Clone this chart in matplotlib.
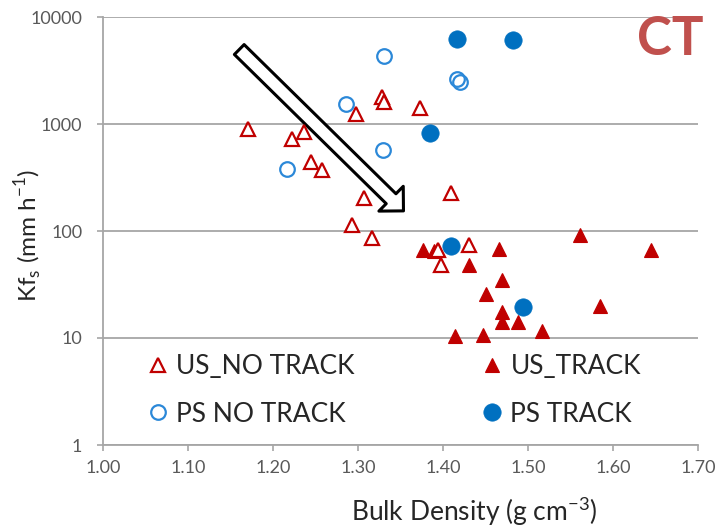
import matplotlib
matplotlib.use("Agg")
import matplotlib.pyplot as plt
from matplotlib.lines import Line2D
from matplotlib.ticker import FixedLocator, NullLocator

plt.rcParams['font.family'] = ['Lato', 'DejaVu Sans']
plt.rcParams['mathtext.fontset'] = 'custom'
plt.rcParams['mathtext.rm'] = 'Lato'

# Bulk density (g cm-3) and field-saturated hydraulic conductivity Kfs (mm h-1)
us_no_track_bd = [1.171, 1.222, 1.236, 1.245, 1.258, 1.298, 1.328, 1.330,
                  1.373, 1.409, 1.307, 1.293, 1.317, 1.431, 1.394, 1.398]
us_no_track_kfs = [900, 720, 850, 440, 370, 1250, 1770, 1600,
                   1400, 225, 205, 115, 86, 74, 66, 48]

us_track_bd = [1.561, 1.645, 1.376, 1.389, 1.466, 1.431, 1.470, 1.451,
               1.585, 1.469, 1.469, 1.488, 1.414, 1.447, 1.517]
us_track_kfs = [91, 66, 67, 65, 68, 48, 35, 26,
                20, 17.5, 14.1, 14.1, 10.4, 10.6, 11.6]

ps_no_track_bd = [1.217, 1.286, 1.330, 1.329, 1.417, 1.420]
ps_no_track_kfs = [380, 1540, 4330, 570, 2650, 2480]

ps_track_bd = [1.417, 1.482, 1.385, 1.410, 1.494]
ps_track_kfs = [6200, 6100, 820, 73, 19.6]

x_ticks = [1.00, 1.10, 1.20, 1.30, 1.40, 1.50, 1.60, 1.70]
y_ticks = [1, 10, 100, 1000, 10000]

RED = '#C00000'
BLUE = '#0070C0'
BLUE_OPEN = '#2B88D8'
GRID = '#A6A6A6'
TICK_TXT = '#595959'

fig = plt.figure(figsize=(7.2, 5.29), dpi=100)
ax = fig.add_axes([103 / 720, 1 - 445 / 529, 595 / 720, 428 / 529])

ax.set_yscale('log')
ax.set_xlim(1.0, 1.7)
ax.set_ylim(1, 10000)

ax.plot(us_track_bd, us_track_kfs, linestyle='none', marker='^', ms=10.5,
        mfc=RED, mec=RED, mew=0.8, zorder=3)
ax.plot(us_no_track_bd, us_no_track_kfs, linestyle='none', marker='^', ms=9.5,
        mfc='white', mec=RED, mew=1.6, zorder=4)
ax.plot(ps_no_track_bd, ps_no_track_kfs, linestyle='none', marker='o', ms=10.5,
        mfc='none', mec=BLUE_OPEN, mew=1.6, zorder=5)
ax.plot(ps_track_bd, ps_track_kfs, linestyle='none', marker='o', ms=12.5,
        mfc=BLUE, mec=BLUE, mew=0.5, zorder=6)

# axes styling
ax.xaxis.set_major_locator(FixedLocator(x_ticks))
ax.yaxis.set_major_locator(FixedLocator(y_ticks))
ax.yaxis.set_minor_locator(NullLocator())
ax.set_xticklabels([f"{v:.2f}" for v in x_ticks])
ax.set_yticklabels([str(v) for v in y_ticks])
ax.tick_params(axis='both', which='major', direction='out', length=4.5,
               width=1.2, color=GRID, labelcolor=TICK_TXT, labelsize=13)
ax.tick_params(axis='y', pad=10.5)
ax.tick_params(axis='x', pad=6)
for side in ('top', 'right'):
    ax.spines[side].set_visible(False)
for side in ('left', 'bottom'):
    ax.spines[side].set_color(GRID)
    ax.spines[side].set_linewidth(1.3)
ax.grid(axis='y', which='major', color=GRID, linewidth=1.3)
ax.set_axisbelow(True)

ax.set_xlabel(r'Bulk Density (g cm$^{\mathregular{-3}}$)', fontsize=19,
              color='#262626')
ax.xaxis.set_label_coords(0.6235, -0.116)
ax.set_ylabel(r'Kf$_{\mathregular{s}}$ (mm h$^{\mathregular{-1}}$)', fontsize=17.5,
              color='#262626')
ax.yaxis.set_label_coords(-0.098, 0.49)

# panel tag
ax.text(0.953, 0.947, 'CT', transform=ax.transAxes, ha='center', va='center',
        fontsize=38, fontweight='bold', color='#C0504D')

# hollow block arrow showing the trend
ax.annotate('', xy=(0.505, 0.547), xytext=(0.229, 0.924),
            xycoords='axes fraction', textcoords='axes fraction',
            arrowprops=dict(arrowstyle='simple,head_length=1.25,head_width=2.5,tail_width=1.0',
                            mutation_scale=10, fc='white', ec='black', lw=2.2,
                            shrinkA=0, shrinkB=0), zorder=2)

# legend, two columns
def handle(marker, ms, mfc, mec, mew):
    return Line2D([], [], linestyle='none', marker=marker, ms=ms, mfc=mfc,
                  mec=mec, mew=mew)

h_us_no = handle('^', 9.5, 'white', RED, 1.6)
h_us = handle('^', 10.5, RED, RED, 0.8)
h_ps_no = handle('o', 10.5, 'none', BLUE_OPEN, 1.6)
h_ps = handle('o', 12.5, BLUE, BLUE, 0.5)

leg_kw = dict(frameon=False, fontsize=19, borderpad=0, borderaxespad=0,
              handlelength=1.0, handletextpad=0.2, labelspacing=0.86,
              loc='center left')
leg1 = ax.legend([h_us_no, h_ps_no], ['US_NO TRACK', 'PS NO TRACK'],
                 bbox_to_anchor=(0.0701, 0.128), **leg_kw)
for t in leg1.get_texts():
    t.set_color('#262626')
ax.add_artist(leg1)
leg2 = ax.legend([h_us, h_ps], ['US_TRACK', 'PS TRACK'],
                 bbox_to_anchor=(0.6316, 0.128), **leg_kw)
for t in leg2.get_texts():
    t.set_color('#262626')

fig.savefig('out.png', dpi=100)
